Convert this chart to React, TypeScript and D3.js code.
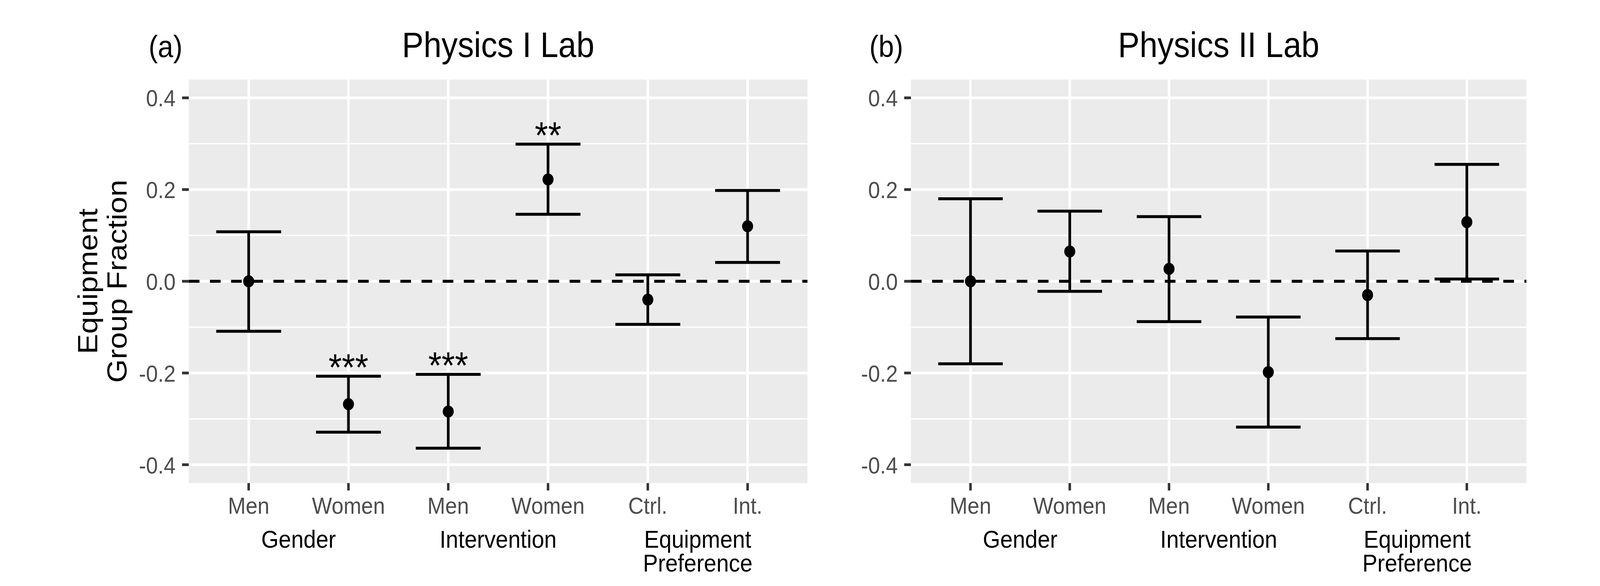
import React from "react";
import * as d3 from "d3";

// ---------- data ----------
const categoryKeys = ["g_men", "g_women", "i_men", "i_women", "e_ctrl", "e_int"];
const categoryLabels = ["Men", "Women", "Men", "Women", "Ctrl.", "Int."];
const groupNames = [["Gender"], ["Intervention"], ["Equipment", "Preference"]];
const groupMembers = [["g_men", "g_women"], ["i_men", "i_women"], ["e_ctrl", "e_int"]];

const phys1Mean = [0.0, -0.268, -0.284, 0.222, -0.04, 0.12];
const phys1Lower = [-0.109, -0.329, -0.364, 0.146, -0.094, 0.041];
const phys1Upper = [0.108, -0.207, -0.203, 0.299, 0.014, 0.198];
const phys1Sig = ["", "***", "***", "**", "", ""];

const phys2Mean = [0.0, 0.065, 0.027, -0.198, -0.03, 0.129];
const phys2Lower = [-0.18, -0.022, -0.088, -0.318, -0.125, 0.005];
const phys2Upper = [0.18, 0.153, 0.141, -0.078, 0.066, 0.255];
const phys2Sig = ["", "", "", "", "", ""];

const yMajorTicks = [-0.4, -0.2, 0, 0.2, 0.4];
const yMajorLabels = ["-0.4", "-0.2", "0.0", "0.2", "0.4"];
const yMinorTicks = [-0.3, -0.1, 0.1, 0.3];
const yDomain = [-0.44, 0.44];

const FONT = "'Liberation Sans', Arial, Helvetica, sans-serif";

type PanelProps = {
  tag: string;
  title: string;
  tagX: number;
  x0: number;
  x1: number;
  mean: number[];
  lower: number[];
  upper: number[];
  sig: string[];
};

const TOP = 203.5;
const BOTTOM = 1236.5;

function Panel({ tag, title, tagX, x0, x1, mean, lower, upper, sig }: PanelProps) {
  const x = d3.scalePoint<string>().domain(categoryKeys).range([x0, x1]).padding(0.6);
  const y = d3.scaleLinear().domain(yDomain).range([BOTTOM, TOP]);
  const step = x.step();
  const capHalf = (step * 0.65) / 2;
  const midX = (x0 + x1) / 2;

  return (
    <g>
      <rect x={x0} y={TOP} width={x1 - x0} height={BOTTOM - TOP} fill="#EBEBEB" />
      {yMinorTicks.map((t) => (
        <line key={"mn" + t} x1={x0} x2={x1} y1={y(t)} y2={y(t)} stroke="#FFFFFF" strokeWidth={3.5} />
      ))}
      {yMajorTicks.map((t) => (
        <line key={"mj" + t} x1={x0} x2={x1} y1={y(t)} y2={y(t)} stroke="#FFFFFF" strokeWidth={7} />
      ))}
      {categoryKeys.map((k) => (
        <line key={"vg" + k} x1={x(k)!} x2={x(k)!} y1={TOP} y2={BOTTOM} stroke="#FFFFFF" strokeWidth={7} />
      ))}
      <line x1={x0} x2={x1} y1={y(0)} y2={y(0)} stroke="#000" strokeWidth={7.5} strokeDasharray="30 29.5" />

      {categoryKeys.map((k, i) => {
        const cx = x(k)!;
        const yu = y(upper[i]);
        const yl = y(lower[i]);
        return (
          <g key={"eb" + k}>
            <path
              d={`M${cx - capHalf},${yu}H${cx + capHalf}M${cx},${yu}V${yl}M${cx - capHalf},${yl}H${cx + capHalf}`}
              stroke="#000"
              strokeWidth={7.5}
              fill="none"
            />
            <circle cx={cx} cy={y(mean[i])} r={15.5} fill="#000" />
            {sig[i] ? (
              <text x={cx} y={yu + 10} fontSize={96} textAnchor="middle" fontFamily={FONT} fill="#000">
                {sig[i]}
              </text>
            ) : null}
          </g>
        );
      })}

      {yMajorTicks.map((t, i) => (
        <g key={"yt" + t}>
          <line x1={x0 - 19} x2={x0} y1={y(t)} y2={y(t)} stroke="#333333" strokeWidth={7} />
          <text x={x0 - 37} y={y(t) + 22} fontSize={60} textAnchor="end" fill="#4D4D4D" fontFamily={FONT}>
            {yMajorLabels[i]}
          </text>
        </g>
      ))}

      {categoryKeys.map((k, i) => (
        <g key={"xt" + k}>
          <line x1={x(k)!} x2={x(k)!} y1={BOTTOM} y2={BOTTOM + 19} stroke="#333333" strokeWidth={7} />
          <text x={x(k)!} y={1315} fontSize={60} textAnchor="middle" fill="#4D4D4D" fontFamily={FONT}>
            {categoryLabels[i]}
          </text>
        </g>
      ))}
      {groupNames.map((lines, gi) => {
        const gx = d3.mean(groupMembers[gi], (m) => x(m)!)!;
        return (
          <text key={"gr" + gi} x={gx} y={1402} fontSize={63} textAnchor="middle" fill="#000" fontFamily={FONT}>
            {lines.map((ln, li) => (
              <tspan key={li} x={gx} dy={li === 0 ? 0 : 61}>
                {ln}
              </tspan>
            ))}
          </text>
        );
      })}

      <text x={midX} y={146} fontSize={91} textAnchor="middle" fill="#000" fontFamily={FONT}>
        {title}
      </text>
      <text x={tagX} y={146} fontSize={78} textAnchor="start" fill="#000" fontFamily={FONT}>
        {tag}
      </text>
    </g>
  );
}

export default function App() {
  return (
    <svg
      viewBox="0 0 4500 1500"
      preserveAspectRatio="none"
      style={{ position: "absolute", left: 0, top: 0, width: "100vw", height: "100vh", display: "block" }}
    >
      <rect x={0} y={0} width={4500} height={1500} fill="#fff" />
      <Panel
        tag="(a)"
        title="Physics I Lab"
        tagX={418}
        x0={531}
        x1={2271}
        mean={phys1Mean}
        lower={phys1Lower}
        upper={phys1Upper}
        sig={phys1Sig}
      />
      <Panel
        tag="(b)"
        title="Physics II Lab"
        tagX={2445}
        x0={2562}
        x1={4293}
        mean={phys2Mean}
        lower={phys2Lower}
        upper={phys2Upper}
        sig={phys2Sig}
      />
      <g transform="translate(0,720) rotate(-90)">
        <text x={0} y={273.6} fontSize={78} textAnchor="middle" fill="#000" fontFamily={FONT}>
          Equipment
        </text>
        <text x={0} y={355.7} fontSize={78} textAnchor="middle" fill="#000" fontFamily={FONT}>
          Group Fraction
        </text>
      </g>
    </svg>
  );
}
